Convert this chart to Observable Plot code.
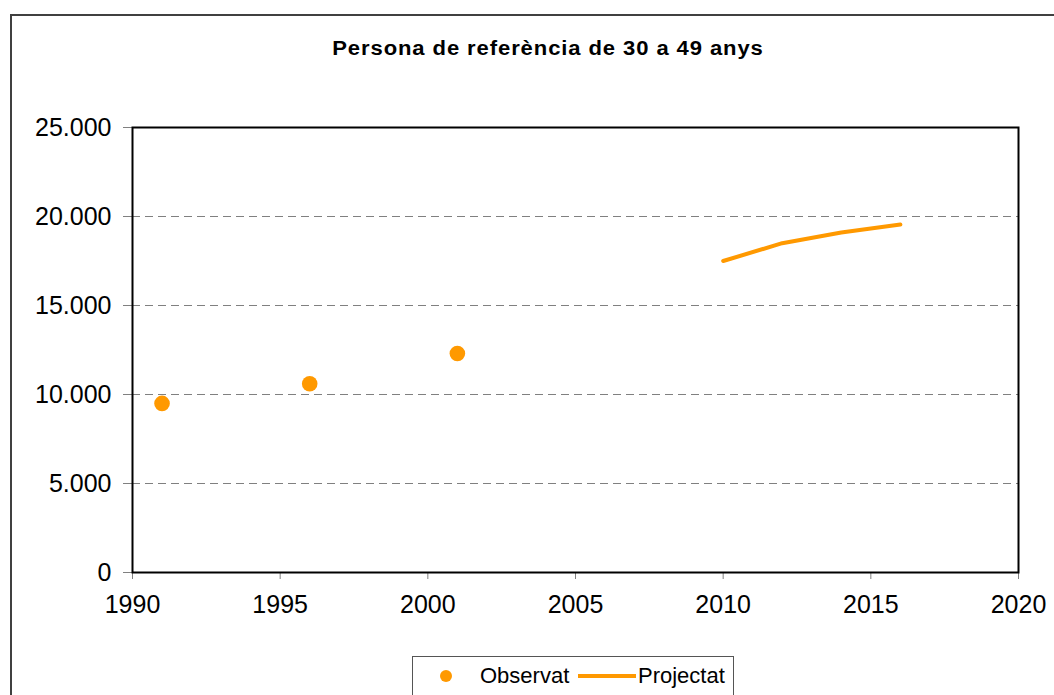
<!DOCTYPE html>
<html>
<head>
<meta charset="utf-8">
<script src="https://cdn.jsdelivr.net/npm/d3@7"></script>
<script src="https://cdn.jsdelivr.net/npm/@observablehq/plot@0.6"></script>
<style>
  html, body { margin: 0; padding: 0; background: #fff; overflow: hidden; }
  body { width: 1054px; height: 695px; position: relative; font-family: "Liberation Sans", Arial, sans-serif; }
  #frame { position: absolute; left: 10px; top: 14px; width: 1100px; height: 800px; border: 2px solid #404040; box-sizing: border-box; }
  #chart { position: absolute; left: 0; top: 0; }
  #title { position: absolute; left: 548px; top: 36.5px; white-space: nowrap; transform: translateX(-50%) scaleX(1.13); font-weight: bold; font-size: 19.5px; line-height: 23px; letter-spacing: 0.8px; color: #000; }
  #legend { position: absolute; left: 412px; top: 656px; width: 322px; height: 60px; border: 1px solid #555; box-sizing: border-box; background: #fff; }
  #legend .item { position: absolute; top: 7px; font-size: 22px; color: #000; line-height: 24px; }
</style>
</head>
<body>
<div id="frame"></div>
<div id="chart"></div>
<div id="title">Persona de referència de 30 a 49 anys</div>
<div id="legend">
  <svg style="position:absolute;left:0;top:0" width="322" height="40">
    <circle cx="33" cy="19" r="6" fill="#FF9900"></circle>
    <line x1="165" x2="223" y1="19" y2="19" stroke="#FF9900" stroke-width="4"></line>
  </svg>
  <span class="item" style="left:67px">Observat</span>
  <span class="item" style="left:225px">Projectat</span>
</div>
<script>
const observedYears = [1991, 1996, 2001];
const observedValues = [9500, 10600, 12300];
const projectedYears = [2010, 2012, 2014, 2016];
const projectedValues = [17500, 18500, 19100, 19550];
const yTicks = [0, 5000, 10000, 15000, 20000, 25000];
const xTicks = [1990, 1995, 2000, 2005, 2010, 2015, 2020];
const gridValues = [5000, 10000, 15000, 20000];

const observed = observedYears.map((y, i) => ({year: y, value: observedValues[i]}));
const projected = projectedYears.map((y, i) => ({year: y, value: projectedValues[i]}));

const loc = d3.formatLocale({decimal: ",", thousands: ".", grouping: [3], currency: ["", ""]});
const fmt = loc.format(",");

const orange = "#FF9900";

const chart = Plot.plot({
  width: 1054,
  height: 695,
  marginLeft: 132,
  marginRight: 36,
  marginTop: 127,
  marginBottom: 123,
  style: {fontFamily: "'Liberation Sans', Arial, sans-serif", background: "transparent", overflow: "visible"},
  x: {domain: [1990, 2020]},
  y: {domain: [0, 25000]},
  marks: [
    Plot.gridY(gridValues, {stroke: "#808080", strokeOpacity: 1, strokeWidth: 1, strokeDasharray: "8,5"}),
    Plot.axisY(yTicks, {tickSize: 9, tickPadding: 12, tickFormat: d => fmt(d), fontSize: 25, stroke: "#808080", color: "#000", label: null}),
    Plot.axisX(xTicks, {tickSize: 7, tickPadding: 16, tickFormat: d => String(d), fontSize: 25, stroke: "#808080", color: "#000", label: null}),
    Plot.frame({stroke: "#000", strokeWidth: 2}),
    Plot.line(projected, {x: "year", y: "value", stroke: orange, strokeWidth: 4, strokeLinecap: "round", strokeLinejoin: "round"}),
    Plot.dot(observed, {x: "year", y: "value", r: 7.8, fill: orange, stroke: null})
  ]
});
document.getElementById("chart").appendChild(chart);
</script>
</body>
</html>
